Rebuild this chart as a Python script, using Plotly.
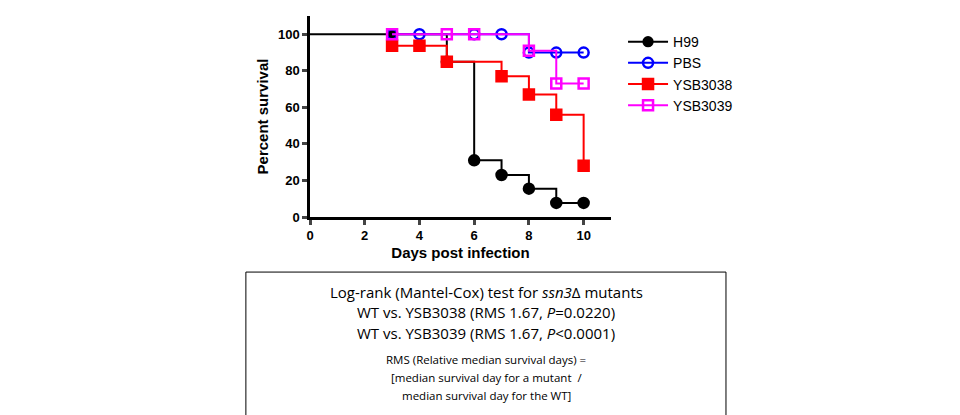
import plotly.graph_objects as go

h99_x = [0, 3, 5, 6, 7, 8, 9, 10]
h99_y = [100, 100, 85, 31, 23, 15.5, 7.7, 7.7]
pbs_x = [3, 4, 6, 7, 8, 9, 10]
pbs_y = [100, 100, 100, 100, 90, 90, 90]
y38_x = [3, 4, 5, 7, 8, 9, 10]
y38_y = [93.75, 93.75, 85, 77, 67, 56, 28]
y39_x = [3, 5, 6, 8, 9, 10]
y39_y = [100, 100, 100, 91, 73, 73]

series = [
    ("H99", h99_x, h99_y, "black", "circle"),
    ("PBS", pbs_x, pbs_y, "blue", "circle-open"),
    ("YSB3038", y38_x, y38_y, "red", "square"),
    ("YSB3039", y39_x, y39_y, "magenta", "square-open"),
]

fig = go.Figure()
for name, x, y, col, sym in series:
    sizes = [0 if xi == 0 else 10 for xi in x]
    fig.add_trace(go.Scatter(
        x=x, y=y, name=name, mode="lines+markers", line_shape="hv",
        line=dict(color=col, width=2),
        marker=dict(color=col, symbol=sym, size=sizes, opacity=1,
                    line=dict(color=col, width=2.5)),
    ))

fig.update_layout(
    width=960, height=415, plot_bgcolor="white", paper_bgcolor="white",
    margin=dict(l=302, r=357, t=8, b=206, autoexpand=False),
    font=dict(family="Liberation Sans, Arial", color="black"),
    legend=dict(x=1.04, y=0.95, yanchor="top", font=dict(size=14), tracegroupgap=4,
                itemwidth=40),
    xaxis=dict(range=[0, 11], tickvals=[0, 2, 4, 6, 8, 10], showline=True, linewidth=2.5,
               linecolor="black", ticks="outside", ticklen=5, tickwidth=2.5,
               showgrid=False, zeroline=False, automargin=False,
               tickfont=dict(size=13, weight="bold"),
               title=dict(text="<b>Days post infection</b>", font=dict(size=15), standoff=6)),
    yaxis=dict(range=[0, 110], tickvals=[0, 20, 40, 60, 80, 100], showline=True, linewidth=2.5,
               linecolor="black", ticks="outside", ticklen=5, tickwidth=2.5,
               showgrid=False, zeroline=False, automargin=False,
               tickfont=dict(size=13, weight="bold"),
               title=dict(text="<b>Percent survival</b>", font=dict(size=15), standoff=6)),
)

fig.add_shape(type="rect", xref="paper", yref="paper", x0=-0.213, x1=1.382, y0=-0.995, y1=-0.274,
              line=dict(color="black", width=1))
tfont = dict(family="Open Sans, Liberation Sans", size=15, color="black")
sfont = dict(family="Open Sans, Liberation Sans", size=11.5, color="black")
lines = [
    ("Log-rank (Mantel-Cox) test for <i>ssn3</i>Δ mutants", -0.375, tfont),
    ("WT vs. YSB3038 (RMS 1.67, <i>P</i>=0.0220)", -0.475, tfont),
    ("WT vs. YSB3039 (RMS 1.67, <i>P</i><0.0001)", -0.575, tfont),
    ("RMS (Relative median survival days) =", -0.71, sfont),
    ("[median survival day for a mutant  /", -0.80, sfont),
    ("median survival day for the WT]", -0.89, sfont),
]
for txt, yy, f in lines:
    fig.add_annotation(text=txt, xref="paper", yref="paper", x=0.585, y=yy,
                       showarrow=False, font=f, xanchor="center", yanchor="middle")

fig.write_html("out.html")
